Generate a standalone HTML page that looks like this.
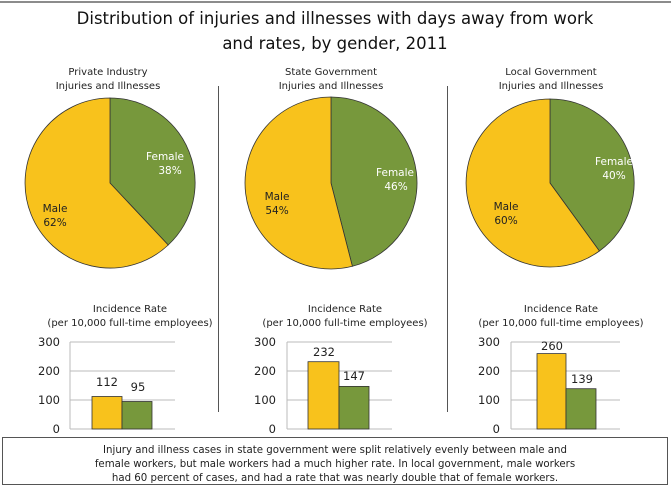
<!DOCTYPE html>
<html><head><meta charset="utf-8"><style>
html,body{margin:0;padding:0;background:#fff;}
svg{display:block;font-family:"DejaVu Sans","Liberation Sans",sans-serif;}
</style></head><body>
<svg width="671" height="488" viewBox="0 0 671 488" xmlns="http://www.w3.org/2000/svg">
<rect width="671" height="488" fill="#fff"/>
<line x1="0" y1="2" x2="671" y2="2" stroke="#666" stroke-width="1.5"/>
<text x="335" y="24" font-size="16.5" text-anchor="middle" fill="#111">Distribution of injuries and illnesses with days away from work</text>
<text x="335" y="49" font-size="16.5" text-anchor="middle" fill="#111">and rates, by gender, 2011</text>
<line x1="218.5" y1="86" x2="218.5" y2="412" stroke="#555"/>
<line x1="447.5" y1="86" x2="447.5" y2="412" stroke="#555"/>
<g font-size="10" text-anchor="middle" fill="#222">
<text x="108" y="75">Private Industry</text><text x="108" y="89">Injuries and Illnesses</text>
<text x="331" y="75">State Government</text><text x="331" y="89">Injuries and Illnesses</text>
<text x="551" y="75">Local Government</text><text x="551" y="89">Injuries and Illnesses</text>
</g>
<g stroke="#333" stroke-width="0.8">
<path d="M110,183 L110,98 A85,85 0 0 1 168.2,245 Z" fill="#77983C"/>
<path d="M110,183 L168.2,245 A85,85 0 1 1 110,98 Z" fill="#F8C21C"/>
<path d="M331,183 L331,97 A86,86 0 0 1 352.4,266.3 Z" fill="#77983C"/>
<path d="M331,183 L352.4,266.3 A86,86 0 1 1 331,97 Z" fill="#F8C21C"/>
<path d="M550,183 L550,99 A84,84 0 0 1 599.4,251 Z" fill="#77983C"/>
<path d="M550,183 L599.4,251 A84,84 0 1 1 550,99 Z" fill="#F8C21C"/>
</g>
<g font-size="10.5" text-anchor="middle">
<text x="165" y="160" fill="#fff">Female</text><text x="170" y="174" fill="#fff">38%</text>
<text x="55" y="212" fill="#222">Male</text><text x="55" y="226" fill="#222">62%</text>
<text x="395" y="176" fill="#fff">Female</text><text x="396" y="190" fill="#fff">46%</text>
<text x="277" y="200" fill="#222">Male</text><text x="277" y="214" fill="#222">54%</text>
<text x="614" y="165" fill="#fff">Female</text><text x="614" y="179" fill="#fff">40%</text>
<text x="506" y="210" fill="#222">Male</text><text x="506" y="224" fill="#222">60%</text>
</g>
<g font-size="10" text-anchor="middle" fill="#222">
<text x="130" y="312">Incidence Rate</text><text x="130" y="326">(per 10,000 full-time employees)</text>
<text x="345" y="312">Incidence Rate</text><text x="345" y="326">(per 10,000 full-time employees)</text>
<text x="561" y="312">Incidence Rate</text><text x="561" y="326">(per 10,000 full-time employees)</text>
</g>
<g stroke="#bbb" stroke-width="1">
<line x1="70" y1="342" x2="175" y2="342"/><line x1="70" y1="371" x2="175" y2="371"/><line x1="70" y1="400" x2="175" y2="400"/><line x1="70" y1="429" x2="175" y2="429"/><line x1="70" y1="342" x2="70" y2="429"/>
<line x1="287" y1="342" x2="392" y2="342"/><line x1="287" y1="371" x2="392" y2="371"/><line x1="287" y1="400" x2="392" y2="400"/><line x1="287" y1="429" x2="392" y2="429"/><line x1="287" y1="342" x2="287" y2="429"/>
<line x1="511" y1="342" x2="620" y2="342"/><line x1="511" y1="371" x2="620" y2="371"/><line x1="511" y1="400" x2="620" y2="400"/><line x1="511" y1="429" x2="620" y2="429"/><line x1="511" y1="342" x2="511" y2="429"/>
</g>
<g font-size="11.5" text-anchor="end" fill="#222">
<text x="60" y="346">300</text><text x="60" y="375">200</text><text x="60" y="404">100</text><text x="60" y="433">0</text>
<text x="276" y="346">300</text><text x="276" y="375">200</text><text x="276" y="404">100</text><text x="276" y="433">0</text>
<text x="500" y="346">300</text><text x="500" y="375">200</text><text x="500" y="404">100</text><text x="500" y="433">0</text>
</g>
<g stroke="#333" stroke-width="0.8">
<rect x="92" y="396.5" width="30" height="32.5" fill="#F8C21C"/>
<rect x="122" y="401.5" width="30" height="27.5" fill="#77983C"/>
<rect x="308" y="361.7" width="31" height="67.3" fill="#F8C21C"/>
<rect x="339" y="386.4" width="30" height="42.6" fill="#77983C"/>
<rect x="537" y="353.6" width="29" height="75.4" fill="#F8C21C"/>
<rect x="566" y="388.7" width="30" height="40.3" fill="#77983C"/>
</g>
<g font-size="11.5" text-anchor="middle" fill="#222">
<text x="107" y="386">112</text><text x="138" y="391">95</text>
<text x="324" y="356">232</text><text x="354" y="380">147</text>
<text x="552" y="350">260</text><text x="582" y="383">139</text>
</g>
<rect x="2.5" y="437.5" width="665" height="47" fill="none" stroke="#555"/>
<g font-size="10.2" text-anchor="middle" fill="#222">
<text x="335" y="453">Injury and illness cases in state government were split relatively evenly between male and</text>
<text x="335" y="467">female workers, but male workers had a much higher rate. In local government, male workers</text>
<text x="335" y="481">had 60 percent of cases, and had a rate that was nearly double that of female workers.</text>
</g>
</svg>
</body></html>
